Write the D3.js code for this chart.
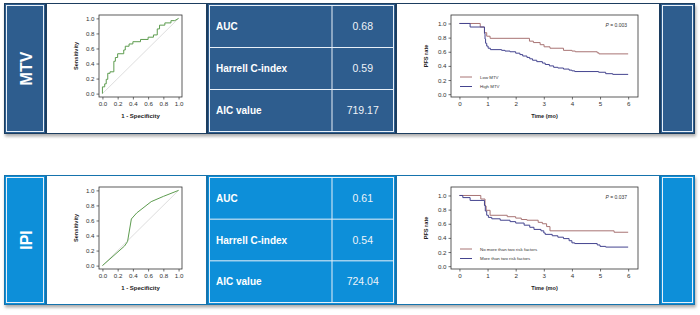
<!DOCTYPE html>
<html>
<head>
<meta charset="utf-8">
<script src="https://cdn.jsdelivr.net/npm/d3@7"></script>
<style>
  body { margin: 0; background: #fff; }
  svg { display: block; font-family: "Liberation Sans", Arial, sans-serif; }
</style>
</head>
<body>
<div id="chart"></div>
<script>
// ---- data ----
const panelLabels = ["MTV", "IPI"];
const metricNames = ["AUC", "Harrell C-index", "AIC value"];
const mtvMetrics = ["0.68", "0.59", "719.17"];
const ipiMetrics = ["0.61", "0.54", "724.04"];
const rocTicks = [0, 0.2, 0.4, 0.6, 0.8, 1.0];
const kmYTicks = [0, 0.2, 0.4, 0.6, 0.8, 1.0];
const kmXTicks = [0, 1, 2, 3, 4, 5, 6];

// ROC points [1 - specificity, sensitivity]
const mtvRoc = [
  [0, 0], [0, 0.09], [0.03, 0.09], [0.03, 0.13], [0.05, 0.13], [0.05, 0.19],
  [0.07, 0.19], [0.07, 0.27], [0.1, 0.27], [0.1, 0.29], [0.15, 0.29], [0.15, 0.43],
  [0.17, 0.43], [0.17, 0.48], [0.2, 0.48], [0.2, 0.53], [0.28, 0.53], [0.28, 0.58],
  [0.3, 0.58], [0.3, 0.63], [0.35, 0.63], [0.35, 0.66], [0.4, 0.66], [0.4, 0.69],
  [0.5, 0.69], [0.5, 0.72], [0.6, 0.72], [0.6, 0.75], [0.67, 0.75], [0.67, 0.78],
  [0.72, 0.78], [0.72, 0.86], [0.75, 0.86], [0.75, 0.91], [0.82, 0.91], [0.82, 0.94],
  [0.9, 0.94], [0.9, 0.97], [0.95, 0.97], [1, 1]
];
const ipiRoc = [
  [0, 0], [0.29, 0.26], [0.33, 0.32], [0.38, 0.62], [0.45, 0.7], [0.64, 0.85],
  [0.8, 0.92], [1, 1]
];

// Kaplan-Meier steps [time (mo), PFS rate]
const lowMtv = [
  [0, 1], [0.74, 0.95], [0.89, 0.87], [0.97, 0.82], [1.09, 0.79], [2.49, 0.75],
  [2.63, 0.73], [2.87, 0.7], [3.01, 0.67], [3.22, 0.65], [3.7, 0.62], [4.0, 0.61],
  [4.12, 0.6], [4.9, 0.585], [4.96, 0.57], [6, 0.57]
];
const highMtv = [
  [0, 1], [0.38, 0.95], [0.89, 0.86], [0.91, 0.78], [0.93, 0.72], [0.97, 0.68],
  [1.02, 0.65], [1.1, 0.63], [1.5, 0.62], [1.62, 0.61], [1.8, 0.6], [2.0, 0.58],
  [2.15, 0.56], [2.25, 0.54], [2.4, 0.52], [2.5, 0.5], [2.6, 0.48], [2.75, 0.46],
  [2.95, 0.44], [3.05, 0.42], [3.2, 0.4], [3.35, 0.38], [3.5, 0.37], [3.7, 0.355],
  [3.9, 0.34], [4.0, 0.33], [4.1, 0.32], [4.95, 0.31], [5.2, 0.29], [5.45, 0.28],
  [6, 0.28]
];
const lowIpi = [
  [0, 1], [0.76, 0.95], [0.91, 0.85], [0.95, 0.79], [1.09, 0.72], [1.7, 0.7],
  [2.0, 0.68], [2.2, 0.66], [2.4, 0.65], [2.8, 0.62], [2.95, 0.6], [3.1, 0.56],
  [3.22, 0.5], [5.5, 0.48], [6, 0.48]
];
const highIpi = [
  [0, 1], [0.12, 0.97], [0.38, 0.93], [0.89, 0.86], [0.92, 0.78], [0.97, 0.72],
  [1.03, 0.69], [1.15, 0.67], [1.45, 0.65], [1.8, 0.63], [2.0, 0.61], [2.3, 0.58],
  [2.5, 0.55], [2.65, 0.52], [2.9, 0.5], [3.0, 0.47], [3.05, 0.45], [3.3, 0.43],
  [3.5, 0.41], [3.7, 0.39], [3.9, 0.36], [4.0, 0.33], [4.1, 0.32], [4.9, 0.3],
  [5.0, 0.28], [5.2, 0.27], [6, 0.27]
];
const mtvLegend = ["Low MTV", "High MTV"];
const ipiLegend = ["No more than two risk factors", "More than two risk factors"];
const pValues = ["0.003", "0.037"];

// ---- drawing ----
const width = 700, height = 315;
const svg = d3.select("#chart").append("svg")
  .attr("width", width).attr("height", height);

const defs = svg.append("defs");
defs.append("filter").attr("id", "shadow")
  .attr("x", "-5%").attr("y", "-10%").attr("width", "110%").attr("height", "130%")
  .append("feDropShadow")
  .attr("dx", 1).attr("dy", 2.5).attr("stdDeviation", 1.6)
  .attr("flood-color", "#777").attr("flood-opacity", 0.6);

const panels = [
  { y: 3, h: 131, fill: "#2e5d8e", edge: "#1d3c5e", label: panelLabels[0], metrics: mtvMetrics,
    roc: mtvRoc, rocStep: true, km: [lowMtv, highMtv], legend: mtvLegend, p: pValues[0] },
  { y: 175, h: 130, fill: "#0d8fd9", edge: "#1673ad", label: panelLabels[1], metrics: ipiMetrics,
    roc: ipiRoc, rocStep: false, km: [lowIpi, highIpi], legend: ipiLegend, p: pValues[1] }
];

const cols = { label: [4, 46], roc: [46, 207], table: [207, 396], km: [396, 660], right: [660, 695] };
const kmColors = ["#a87474", "#44448f"];

panels.forEach(p => {
  const g = svg.append("g");
  g.append("rect")
    .attr("x", cols.label[0]).attr("y", p.y)
    .attr("width", cols.right[1] - cols.label[0]).attr("height", p.h)
    .attr("fill", p.edge).attr("filter", "url(#shadow)");

  Object.entries(cols).forEach(([key, [x0, x1]]) => {
    const blue = key === "label" || key === "table" || key === "right";
    g.append("rect")
      .attr("x", x0 + 1).attr("y", p.y + 1)
      .attr("width", x1 - x0 - 2).attr("height", p.h - 2)
      .attr("fill", blue ? p.fill : "#fff");
    if (blue) {
      g.append("rect")
        .attr("x", x0 + 2.5).attr("y", p.y + 2.5)
        .attr("width", x1 - x0 - 5).attr("height", p.h - 5)
        .attr("fill", "none").attr("stroke", "#e8f0f8").attr("stroke-width", 1);
    }
  });

  // rotated panel label
  const lx = (cols.label[0] + cols.label[1]) / 2, ly = p.y + p.h / 2;
  g.append("text")
    .attr("transform", `translate(${lx + 1},${ly}) rotate(-90)`)
    .attr("text-anchor", "middle").attr("dy", "0.36em")
    .attr("fill", "#fff").attr("font-weight", "bold").attr("font-size", 16)
    .text(p.label);

  // table
  const rowY = d3.scaleBand().domain(metricNames).range([p.y + 2.5, p.y + p.h - 2.5]);
  const divX = 332;
  g.append("line")
    .attr("x1", divX).attr("x2", divX).attr("y1", p.y + 2.5).attr("y2", p.y + p.h - 2.5)
    .attr("stroke", "#e8f0f8");
  metricNames.forEach((m, i) => {
    if (i > 0) {
      g.append("line")
        .attr("x1", cols.table[0] + 2.5).attr("x2", cols.table[1] - 2.5)
        .attr("y1", rowY(m)).attr("y2", rowY(m))
        .attr("stroke", "#e8f0f8");
    }
    const cy = rowY(m) + rowY.bandwidth() / 2;
    g.append("text")
      .attr("x", 216).attr("y", cy).attr("dy", "0.36em")
      .attr("fill", "#fff").attr("font-weight", "bold").attr("font-size", 10)
      .text(m);
    g.append("text")
      .attr("x", (divX + cols.table[1] - 2.5) / 2).attr("y", cy).attr("dy", "0.36em")
      .attr("text-anchor", "middle")
      .attr("fill", "#eef3f8").attr("font-size", 10.5)
      .text(p.metrics[i]);
  });

  drawRoc(g, p);
  drawKm(g, p);
});

function drawRoc(g, p) {
  const left = 99, right = 182, top = p.y + 12, bottom = p.y + 94;
  const pad = 0.045;
  const x = d3.scaleLinear().domain([-pad, 1 + pad]).range([left, right]);
  const y = d3.scaleLinear().domain([-pad, 1 + pad]).range([bottom, top]);

  g.append("line")
    .attr("x1", x(0)).attr("y1", y(0)).attr("x2", x(1)).attr("y2", y(1))
    .attr("stroke", "#d4d4d4").attr("stroke-width", 0.8);

  const line = d3.line().x(d => x(d[0])).y(d => y(d[1]));
  g.append("path").datum(p.roc)
    .attr("d", line).attr("fill", "none")
    .attr("stroke", "#5d9c4f").attr("stroke-width", 1);

  g.append("rect")
    .attr("x", left).attr("y", top).attr("width", right - left).attr("height", bottom - top)
    .attr("fill", "none").attr("stroke", "#333").attr("stroke-width", 0.8);

  const xa = g.append("g").attr("transform", `translate(0,${bottom})`)
    .call(d3.axisBottom(x).tickValues(rocTicks).tickFormat(d3.format(".1f")).tickSize(2.5).tickPadding(2));
  const ya = g.append("g").attr("transform", `translate(${left},0)`)
    .call(d3.axisLeft(y).tickValues(rocTicks).tickFormat(d3.format(".1f")).tickSize(2.5).tickPadding(2));
  styleAxis(xa, 6.2); styleAxis(ya, 6.2);

  g.append("text")
    .attr("x", (left + right) / 2).attr("y", bottom + 21).attr("text-anchor", "middle")
    .attr("font-size", 6).attr("font-weight", "bold").attr("fill", "#222")
    .text("1 - Specificity");
  g.append("text")
    .attr("transform", `translate(${left - 23},${(top + bottom) / 2}) rotate(-90)`)
    .attr("text-anchor", "middle").attr("dy", "0.35em")
    .attr("font-size", 5.6).attr("font-weight", "bold").attr("fill", "#222")
    .text("Sensitivity");
}

function drawKm(g, p) {
  const left = 451, right = 638, top = p.y + 12, bottom = p.y + 94;
  const x = d3.scaleLinear().domain([-0.3, 6.35]).range([left, right]);
  const y = d3.scaleLinear().domain([-0.04, 1.12]).range([bottom, top]);

  const line = d3.line().curve(d3.curveStepAfter).x(d => x(d[0])).y(d => y(d[1]));
  p.km.forEach((s, i) => {
    g.append("path").datum(s)
      .attr("d", line).attr("fill", "none")
      .attr("stroke", kmColors[i]).attr("stroke-width", 1);
  });

  g.append("rect")
    .attr("x", left).attr("y", top).attr("width", right - left).attr("height", bottom - top)
    .attr("fill", "none").attr("stroke", "#333").attr("stroke-width", 0.8);

  const xa = g.append("g").attr("transform", `translate(0,${bottom})`)
    .call(d3.axisBottom(x).tickValues(kmXTicks).tickFormat(d3.format("d")).tickSize(2.5).tickPadding(2));
  const ya = g.append("g").attr("transform", `translate(${left},0)`)
    .call(d3.axisLeft(y).tickValues(kmYTicks).tickFormat(d3.format(".1f")).tickSize(2.5).tickPadding(2));
  styleAxis(xa, 6.2); styleAxis(ya, 6.2);

  g.append("text")
    .attr("x", (left + right) / 2).attr("y", bottom + 21).attr("text-anchor", "middle")
    .attr("font-size", 5.6).attr("font-weight", "bold").attr("fill", "#222")
    .text("Time (mo)");
  g.append("text")
    .attr("transform", `translate(${left - 25},${(top + bottom) / 2}) rotate(-90)`)
    .attr("text-anchor", "middle").attr("dy", "0.35em")
    .attr("font-size", 5.6).attr("font-weight", "bold").attr("fill", "#222")
    .text("PFS rate");

  const pt = g.append("text")
    .attr("x", right - 11).attr("y", top + 10).attr("dy", "0.35em").attr("text-anchor", "end")
    .attr("font-size", 5).attr("fill", "#333");
  pt.append("tspan").attr("font-style", "italic").text("P");
  pt.append("tspan").text(" = " + p.p);

  p.legend.forEach((name, i) => {
    const ly = top + 62 + i * 9.5;
    g.append("line")
      .attr("x1", left + 9).attr("x2", left + 21).attr("y1", ly).attr("y2", ly)
      .attr("stroke", kmColors[i]).attr("stroke-width", 1);
    g.append("text")
      .attr("x", left + 29).attr("y", ly).attr("dy", "0.35em")
      .attr("font-size", 4.4).attr("fill", "#333")
      .text(name);
  });
}

function styleAxis(a, size) {
  a.select(".domain").remove();
  a.selectAll(".tick line").attr("stroke", "#333").attr("stroke-width", 0.7);
  a.selectAll(".tick text").attr("font-size", size).attr("fill", "#333")
    .attr("font-family", "Liberation Sans, Arial, sans-serif");
}
</script>
</body>
</html>
